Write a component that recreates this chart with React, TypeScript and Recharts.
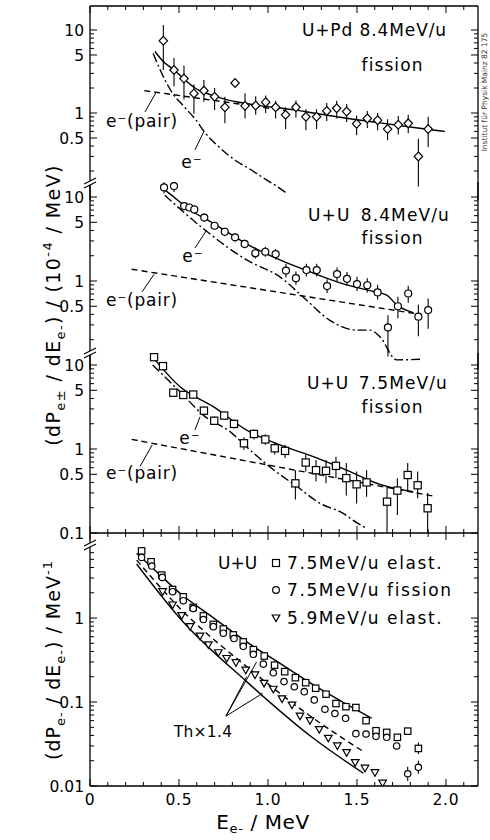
import React from 'react';
import {
  ComposedChart, Line, Scatter, XAxis, YAxis, ErrorBar,
  ReferenceLine, ReferenceDot, Legend,
} from 'recharts';

const FONT = '"DejaVu Sans", "Liberation Sans", sans-serif';
const W = 490;
const H = 840;

// ---- values: [E (MeV), value, error low, error high] ----
const pdFission = [
  [0.412, 7.4, 3.3, 11.5], [0.472, 3.3, 2.1, 4.6], [0.528, 2.6, 1.45, 3.7], [0.584, 1.72, 0.98, 2.2],
  [0.64, 1.86, 1.37, 2.5], [0.7, 1.57, 1.09, 2.0], [0.758, 1.17, 0.75, 1.57], [0.815, 2.3],
  [0.871, 1.22, 0.86, 1.73], [0.931, 1.23, 0.95, 1.59], [0.987, 1.35, 1.0, 1.63], [1.043, 1.17, 0.86, 1.4],
  [1.099, 0.95, 0.64, 1.17], [1.157, 1.17, 0.88, 1.41], [1.213, 0.9, 0.62, 1.11], [1.273, 0.9, 0.64, 1.11],
  [1.33, 1.06, 0.8, 1.32], [1.386, 1.14, 0.86, 1.4], [1.442, 1.04, 0.78, 1.28], [1.498, 0.74, 0.54, 0.93],
  [1.558, 0.86, 0.66, 1.06], [1.616, 0.82, 0.62, 1.0], [1.672, 0.64, 0.47, 0.84], [1.732, 0.72, 0.55, 0.92],
  [1.788, 0.75, 0.57, 0.95], [1.845, 0.3, 0.13, 0.49], [1.9, 0.64, 0.39, 0.9],
];
const pdTotal = [
  [0.365, 5.5], [0.41, 4.2], [0.472, 3.3], [0.53, 2.55], [0.59, 2.0], [0.68, 1.65], [0.777, 1.43],
  [0.88, 1.3], [0.965, 1.22], [1.148, 1.09], [1.255, 1.0], [1.45, 0.86], [1.63, 0.76], [1.82, 0.67], [1.994, 0.6],
];
const pdElectron = [
  [0.355, 5.2], [0.43, 2.3], [0.47, 1.65], [0.52, 1.25], [0.59, 0.85], [0.655, 0.55], [0.73, 0.38],
  [0.815, 0.27], [0.9, 0.21], [0.965, 0.17], [1.04, 0.135], [1.105, 0.108],
];
const pdPair = [[0.305, 1.86], [1.1, 1.07]];

const uu84Fission = [
  [0.416, 13.0, 11.0, 15.0], [0.472, 13.5, 11.5, 15.0], [0.529, 7.8, 7.0, 8.7], [0.558, 7.5, 6.8, 8.3],
  [0.586, 7.1, 6.3, 8.0], [0.642, 5.7, 5.1, 6.4], [0.7, 4.55, 4.1, 5.0], [0.757, 3.86, 3.4, 4.3],
  [0.815, 3.31, 2.95, 3.7], [0.869, 2.76, 2.45, 3.1], [0.929, 2.14, 1.85, 2.5], [0.985, 2.23, 1.95, 2.55],
  [1.043, 2.09, 1.8, 2.4], [1.101, 1.33, 1.1, 1.6], [1.157, 1.08, 0.9, 1.3], [1.216, 1.35, 1.13, 1.6],
  [1.274, 1.35, 1.13, 1.6], [1.332, 0.87, 0.72, 1.05], [1.388, 1.21, 1.0, 1.45], [1.444, 1.06, 0.88, 1.28],
  [1.5, 0.92, 0.76, 1.12], [1.558, 0.89, 0.73, 1.08], [1.616, 0.73, 0.6, 0.9], [1.674, 0.28, 0.126, 0.39],
  [1.73, 0.5, 0.36, 0.65], [1.788, 0.71, 0.55, 0.88], [1.845, 0.376, 0.22, 0.52], [1.9, 0.45, 0.27, 0.62],
];
const uu84Total = [
  [0.41, 12.5], [0.449, 10.9], [0.55, 7.3], [0.693, 4.86], [0.892, 2.68], [1.067, 1.78], [1.255, 1.24],
  [1.442, 0.9], [1.592, 0.75], [1.667, 0.68], [1.723, 0.52], [1.816, 0.42],
];
const uu84Electron = [
  [0.42, 10.5], [0.646, 4.05], [0.88, 1.78], [1.067, 1.12], [1.217, 0.59], [1.348, 0.34], [1.498, 0.26],
  [1.573, 0.26], [1.629, 0.217], [1.723, 0.115], [1.854, 0.117],
];
const uu84Pair = [[0.234, 1.38], [1.826, 0.41]];

const uu75Fission = [
  [0.36, 12.4, 11.3, 13.6], [0.41, 9.7, 8.9, 10.6], [0.468, 4.68, 4.2, 5.2], [0.524, 4.4, 4.0, 4.9],
  [0.58, 4.45, 4.0, 4.95], [0.64, 2.86, 2.55, 3.2], [0.698, 2.17, 1.95, 2.45], [0.754, 2.5, 2.25, 2.8],
  [0.809, 1.99, 1.75, 2.25], [0.865, 1.17, 0.98, 1.38], [0.921, 1.51, 1.3, 1.72], [0.985, 1.3, 1.12, 1.5],
  [1.038, 1.02, 0.86, 1.2], [1.096, 0.95, 0.78, 1.12], [1.154, 0.39, 0.25, 0.56], [1.212, 0.69, 0.54, 0.85],
  [1.27, 0.56, 0.41, 0.74], [1.326, 0.55, 0.39, 0.74], [1.382, 0.63, 0.45, 0.81], [1.44, 0.45, 0.28, 0.68],
  [1.498, 0.38, 0.225, 0.54], [1.554, 0.4, 0.27, 0.56], [1.669, 0.236, 0.1, 0.356], [1.727, 0.32, 0.164, 0.45],
  [1.785, 0.49, 0.325, 0.68], [1.841, 0.37, 0.26, 0.54], [1.897, 0.197, 0.1, 0.3],
];
const uu75Total = [
  [0.365, 11.5], [0.506, 5.5], [0.693, 3.19], [0.88, 1.68], [1.067, 1.12], [1.255, 0.81], [1.442, 0.56],
  [1.629, 0.38], [1.816, 0.31],
];
const uu75Electron = [
  [0.352, 10], [0.506, 4.8], [0.646, 2.43], [0.787, 1.61], [0.88, 1.06], [1.02, 0.59], [1.161, 0.36],
  [1.292, 0.226], [1.423, 0.171], [1.498, 0.133], [1.554, 0.114],
];
const uu75Pair = [[0.234, 1.3], [1.929, 0.275]];

const elast75 = [
  [0.29, 6.3], [0.343, 4.68], [0.403, 3.25], [0.464, 2.19], [0.524, 1.79], [0.58, 1.34], [0.637, 1.06],
  [0.693, 0.84], [0.749, 0.74], [0.805, 0.63], [0.861, 0.52], [0.918, 0.42], [0.979, 0.353], [1.037, 0.275],
  [1.094, 0.23], [1.154, 0.195], [1.212, 0.17], [1.268, 0.146], [1.326, 0.124], [1.382, 0.096],
  [1.438, 0.088], [1.494, 0.086], [1.551, 0.06], [1.607, 0.0455], [1.667, 0.0435], [1.727, 0.038],
  [1.785, 0.045], [1.845, 0.028, 0.024, 0.033],
];
const fission75 = [
  [0.29, 5.27], [0.347, 4.16], [0.406, 3.05], [0.464, 2.06], [0.524, 1.61], [0.58, 1.3], [0.637, 0.96],
  [0.693, 0.79], [0.749, 0.66], [0.809, 0.57], [0.861, 0.46], [0.918, 0.37], [0.974, 0.283], [1.03, 0.223],
  [1.09, 0.175], [1.148, 0.152], [1.204, 0.133], [1.26, 0.106], [1.32, 0.082], [1.376, 0.073],
  [1.436, 0.064], [1.494, 0.042], [1.551, 0.0416], [1.607, 0.039], [1.667, 0.038], [1.723, 0.03],
  [1.785, 0.014, 0.0115, 0.017], [1.845, 0.0167, 0.014, 0.02],
];
const elast59 = [
  [0.408, 2.06], [0.464, 1.43], [0.515, 1.07], [0.562, 0.79], [0.618, 0.61], [0.665, 0.48], [0.721, 0.386],
  [0.768, 0.33], [0.82, 0.294], [0.875, 0.24], [0.927, 0.21], [0.978, 0.167], [1.03, 0.142], [1.079, 0.109],
  [1.135, 0.092], [1.18, 0.068], [1.236, 0.06], [1.288, 0.047], [1.339, 0.037], [1.39, 0.03],
  [1.442, 0.025], [1.49, 0.019], [1.545, 0.0163], [1.601, 0.0144], [1.644, 0.0108],
];
const thElast75 = [[0.262, 5.9], [0.38, 3.47], [0.506, 1.97], [0.69, 1.02], [0.88, 0.52], [1.07, 0.286], [1.255, 0.16], [1.42, 0.1], [1.582, 0.064]];
const thFission75 = [[0.262, 4.9], [0.506, 1.3], [0.88, 0.264], [1.255, 0.064], [1.545, 0.025]];
const thElast59 = [[0.262, 4.4], [0.506, 0.99], [0.88, 0.175], [1.255, 0.037], [1.536, 0.0142]];

// ---- axis ticks ----
const xTicks = [0, 0.1, 0.2, 0.3, 0.4, 0.5, 0.6, 0.7, 0.8, 0.9, 1, 1.1, 1.2, 1.3, 1.4, 1.5, 1.6, 1.7, 1.8, 1.9, 2, 2.1];
const xLabels: Record<string, string> = { '0': '0', '0.5': '0.5', '1': '1.0', '1.5': '1.5', '2': '2.0' };
const ticksA = [0.2, 0.3, 0.4, 0.5, 0.6, 0.7, 0.8, 0.9, 1, 2, 3, 4, 5, 6, 7, 8, 9, 10];
const ticksB = [0.1, ...ticksA];
const ticksC = [0.01, 0.02, 0.03, 0.04, 0.05, 0.06, 0.07, 0.08, 0.09, 0.1, 0.2, 0.3, 0.4, 0.5, 0.6, 0.7, 0.8, 0.9, 1, 2, 3, 4, 5, 6];
const labelsA: Record<string, string> = { '10': '10', '5': '5', '1': '1', '0.5': '0.5' };
const labelsB: Record<string, string> = { ...labelsA, '0.1': '0.1' };
const labelsC: Record<string, string> = { '1': '1', '0.1': '0.1', '0.01': '0.01' };

const pts = (arr: number[][]) => arr.map(([x, y, lo = y, hi = y]) => ({ x, y, err: [y - lo, hi - y] }));
const curve = (arr: number[][]) => arr.map(([x, y]) => ({ x, y }));

// ---- markers ----
const ink = { fill: '#fff', stroke: '#000', strokeWidth: 1.2 };
const diamond = (p: any) => <path d={`M${p.cx},${p.cy - 4.4}L${p.cx + 4.2},${p.cy}L${p.cx},${p.cy + 4.4}L${p.cx - 4.2},${p.cy}Z`} {...ink} />;
const circle = (r: number) => (p: any) => <circle cx={p.cx} cy={p.cy} r={r} {...ink} />;
const square = (h: number) => (p: any) => <rect x={p.cx - h} y={p.cy - h} width={2 * h} height={2 * h} {...ink} />;
const triDown = (p: any) => <path d={`M${p.cx - 3.8},${p.cy - 3}L${p.cx + 3.8},${p.cy - 3}L${p.cx},${p.cy + 3.6}Z`} {...ink} />;

const DASH = '6 4';
const DASHDOT = '9 3 2 3';

const BreakMark = ({ x, y }: { x: number; y: number }) => (
  <g>
    <polygon points={`${x - 6},${y + 1} ${x + 6},${y - 5} ${x + 6},${y - 1} ${x - 6},${y + 5}`} fill="#fff" />
    <line x1={x - 6} y1={y + 1} x2={x + 6} y2={y - 5} stroke="#000" strokeWidth={1.2} />
    <line x1={x - 6} y1={y + 5} x2={x + 6} y2={y - 1} stroke="#000" strokeWidth={1.2} />
  </g>
);

const yTickLeft = (labels: Record<string, string>, breaks: number[]) => (props: any) => {
  const { x, y, payload } = props;
  if (breaks.includes(payload.value)) return <BreakMark x={x} y={y} />;
  const lab = labels[String(payload.value)];
  return (
    <g>
      <line x1={x} x2={x + (lab ? 7 : 4)} y1={y} y2={y} stroke="#000" strokeWidth={1} />
      {lab && (
        <text x={x - 6} y={y} dy="0.36em" textAnchor="end" fontSize={15.5} fontFamily={FONT} fill="#000">{lab}</text>
      )}
    </g>
  );
};
const yTickRight = (labels: Record<string, string>) => (props: any) => {
  const { x, y, payload } = props;
  const lab = labels[String(payload.value)];
  return <line x1={x} x2={x - (lab ? 7 : 4)} y1={y} y2={y} stroke="#000" strokeWidth={1} />;
};
const xTick = (mode: string) => (props: any) => {
  const { x, y, payload } = props;
  const lab = xLabels[String(payload.value)];
  const len = lab ? 7 : 4;
  if (mode === 'top') return <line x1={x} x2={x} y1={y} y2={y + len} stroke="#000" strokeWidth={1} />;
  if (mode === 'mid') return <line x1={x} x2={x} y1={y - len} y2={y + len} stroke="#000" strokeWidth={1} />;
  return (
    <g>
      <line x1={x} x2={x} y1={y} y2={y - len} stroke="#000" strokeWidth={1} />
      {lab && (
        <text x={x} y={y + 19} textAnchor="middle" fontSize={15.5} fontFamily={FONT} fill="#000" letterSpacing={0.8}>{lab}</text>
      )}
    </g>
  );
};

const upperTitle = () => (
  <text transform="translate(60,305) rotate(-90)" textAnchor="middle" fontSize={19} fontFamily={FONT} fill="#000" letterSpacing={1.4}>
    (dP<tspan dy={5} fontSize={13}>e±</tspan><tspan dy={-5}> / dE</tspan><tspan dy={5} fontSize={13}>e-</tspan>
    <tspan dy={-5}>) / (10</tspan><tspan dy={-8} fontSize={13}>-4</tspan><tspan dy={8}> / MeV)</tspan>
  </text>
);
const lowerTitle = () => (
  <text transform="translate(60,660) rotate(-90)" textAnchor="middle" fontSize={19} fontFamily={FONT} fill="#000" letterSpacing={1}>
    (dP<tspan dy={5} fontSize={13}>e-</tspan><tspan dy={-5}> / dE</tspan><tspan dy={5} fontSize={13}>e-</tspan>
    <tspan dy={-5}>) / MeV</tspan><tspan dy={-8} fontSize={13}>-1</tspan>
  </text>
);
const xTitle = () => (
  <text x={263} y={829} textAnchor="middle" fontSize={20} fontFamily={FONT} fill="#000" letterSpacing={0.6}>
    E<tspan dy={4} fontSize={13}>e-</tspan><tspan dy={-4}> / MeV</tspan>
  </text>
);
const stamp = () => (
  <text transform="translate(487,92) rotate(-90)" textAnchor="middle" fontSize={7.5} fontFamily={FONT} fill="#333">
    Institut für Physik Mainz 82 175
  </text>
);

type Note = { x: number; y: number; text: string; anchor?: string; size?: number; spacing?: number };
type Seg = [number, number, number, number];

const PLOT_LEFT = 90;
const PLOT_RIGHT = 478;

function Panel(props: any) {
  const {
    top, bottom, domain, ticks, labels, breaks = [], xMode, series = [], lines = [],
    notes = [], pointers = [], yTitle, rTitle, xLabel, children,
  } = props;
  const axisLine = { stroke: '#000', strokeWidth: 1.3 };
  const margin = {
    top: xMode === 'top' ? top - 1 : top,
    bottom: xMode === 'top' || xMode === 'none' ? H - bottom : H - bottom - 1,
    left: PLOT_LEFT - 1,
    right: W - PLOT_RIGHT - 1,
  };
  return (
    <div style={{ position: 'absolute', left: 0, top: 0 }}>
      <ComposedChart width={W} height={H} margin={margin}>
        <XAxis
          type="number" dataKey="x" domain={[0, 2.18]} allowDataOverflow ticks={xTicks} interval={0}
          orientation={xMode === 'top' ? 'top' : 'bottom'} hide={xMode === 'none'} height={1}
          tickSize={0} tickMargin={0} tickLine={false} axisLine={axisLine} tick={xTick(xMode)}
          label={xLabel ? { content: xLabel } : undefined}
        />
        <YAxis
          yAxisId="l" type="number" dataKey="y" scale="log" domain={domain} allowDataOverflow width={1}
          ticks={[...ticks, ...breaks]} interval={0} tickSize={0} tickMargin={0} tickLine={false}
          axisLine={axisLine} tick={yTickLeft(labels, breaks)}
          label={yTitle ? { content: yTitle } : undefined}
        />
        <YAxis
          yAxisId="r" orientation="right" type="number" dataKey="y" scale="log" domain={domain} allowDataOverflow
          width={1} ticks={ticks} interval={0} tickSize={0} tickMargin={0} tickLine={false}
          axisLine={axisLine} tick={yTickRight(labels)}
          label={rTitle ? { content: rTitle } : undefined}
        />
        {lines.map((l: any, i: number) => (
          <Line
            key={`l${i}`} yAxisId="l" data={curve(l.data)} dataKey="y" type={l.straight ? 'linear' : 'monotone'}
            stroke="#000" strokeWidth={1.4} strokeDasharray={l.dash} dot={false} isAnimationActive={false}
          />
        ))}
        {series.map((s: any, i: number) => (
          <Scatter key={`s${i}`} yAxisId="l" data={pts(s.data)} shape={s.shape} isAnimationActive={false}>
            <ErrorBar dataKey="err" direction="y" width={0} stroke="#000" strokeWidth={1.1} />
          </Scatter>
        ))}
        {pointers.map((p: Seg, i: number) => (
          <ReferenceLine
            key={`p${i}`} yAxisId="l" segment={[{ x: p[0], y: p[1] }, { x: p[2], y: p[3] }]}
            stroke="#000" strokeWidth={1}
          />
        ))}
        {notes.map((n: Note, i: number) => (
          <ReferenceDot
            key={`n${i}`} yAxisId="l" x={n.x} y={n.y} r={0} fill="none" stroke="none"
            label={(lp: any) => {
              const vb = lp.viewBox || { x: 0, y: 0 };
              return (
                <text x={vb.x} y={vb.y} dy="0.35em" textAnchor={n.anchor || 'middle'} fontSize={n.size || 17}
                  letterSpacing={n.spacing ?? 1.1} fontFamily={FONT} fill="#000">{n.text}</text>
              );
            }}
          />
        ))}
        {children}
      </ComposedChart>
    </div>
  );
}

const legendRows = [
  { label: '7.5MeV/u elast.', mark: <rect x={3.5} y={3.5} width={7} height={7} {...ink} /> },
  { label: '7.5MeV/u fission', mark: <circle cx={7} cy={7} r={3.4} {...ink} /> },
  { label: '5.9MeV/u elast.', mark: <path d="M3.2,4L10.8,4L7,10.6Z" {...ink} /> },
];

const LegendBox = () => (
  <div style={{ fontFamily: FONT, fontSize: 17, color: '#000' }}>
    {legendRows.map((r, i) => (
      <div key={r.label} style={{ display: 'flex', alignItems: 'center', height: 27.5, whiteSpace: 'nowrap' }}>
        <span style={{ width: 51 }}>{i === 0 ? 'U+U' : ''}</span>
        <svg width={14} height={14}>{r.mark}</svg>
        <span style={{ marginLeft: 4, letterSpacing: 1.6 }}>{r.label}</span>
      </div>
    ))}
  </div>
);

export default function App() {
  return (
    <div style={{ position: 'absolute', left: 0, top: 0, width: W, height: H, background: '#fff' }}>
      <Panel
        top={533} bottom={786} domain={[0.01, 10.3]} ticks={ticksC} labels={labelsC} breaks={[7.4]} xMode="bottom"
        yTitle={lowerTitle} xLabel={xTitle}
        lines={[
          { data: thElast75 },
          { data: thFission75, dash: DASH },
          { data: thElast59 },
        ]}
        series={[
          { data: elast75, shape: square(3.2) },
          { data: fission75, shape: circle(3.2) },
          { data: elast59, shape: triDown },
        ]}
        pointers={[
          [0.764, 0.068, 0.88, 0.2],
          [0.764, 0.068, 0.936, 0.3],
          [0.764, 0.068, 0.97, 0.127],
        ]}
        notes={[{ x: 0.635, y: 0.045, text: 'Th×1.4', size: 15.5, spacing: 0.3 }]}
      >
        <Legend
          layout="vertical" align="center" verticalAlign="middle"
          wrapperStyle={{ left: 218, top: 549, width: 266 }}
          content={() => <LegendBox />}
        />
      </Panel>
      <Panel
        top={353} bottom={533} domain={[0.1, 13.9]} ticks={ticksB} labels={labelsB} xMode="mid"
        lines={[
          { data: uu75Total },
          { data: uu75Electron, dash: DASHDOT },
          { data: uu75Pair, dash: DASH, straight: true },
        ]}
        series={[{ data: uu75Fission, shape: square(3.6) }]}
        pointers={[[0.281, 0.62, 0.35, 1.12], [0.59, 1.69, 0.618, 2.42]]}
        notes={[
          { x: 1.219, y: 6.1, text: 'U+U', anchor: 'start' },
          { x: 2.011, y: 6.1, text: '7.5MeV/u', anchor: 'end' },
          { x: 1.7, y: 3.16, text: 'fission' },
          { x: 0.292, y: 0.52, text: 'e⁻(pair)', spacing: 0.8 },
          { x: 0.562, y: 1.35, text: 'e⁻' },
        ]}
      />
      <Panel
        top={182} bottom={370} domain={[0.0871, 15.1]} ticks={ticksA} labels={labelsA} breaks={[0.139]} xMode="none"
        yTitle={upperTitle}
        lines={[
          { data: uu84Total },
          { data: uu84Electron, dash: DASHDOT },
          { data: uu84Pair, dash: DASH, straight: true },
        ]}
        series={[{ data: uu84Fission, shape: circle(3.5) }]}
        pointers={[[0.292, 0.74, 0.36, 1.2], [0.59, 2.47, 0.656, 4.05]]}
        notes={[
          { x: 1.225, y: 6.1, text: 'U+U', anchor: 'start' },
          { x: 2.022, y: 6.1, text: '8.4MeV/u', anchor: 'end' },
          { x: 1.7, y: 3.25, text: 'fission' },
          { x: 0.292, y: 0.594, text: 'e⁻(pair)', spacing: 0.8 },
          { x: 0.579, y: 1.98, text: 'e⁻' },
        ]}
      />
      <Panel
        top={6} bottom={200} domain={[0.0895, 19.46]} ticks={ticksA} labels={labelsA} breaks={[0.1436]} xMode="top"
        rTitle={stamp}
        lines={[
          { data: pdTotal },
          { data: pdElectron, dash: DASHDOT },
          { data: pdPair, dash: DASH, straight: true },
        ]}
        series={[{ data: pdFission, shape: diamond }]}
        pointers={[[0.309, 1.03, 0.37, 1.75], [0.59, 0.36, 0.64, 0.6]]}
        notes={[
          { x: 2.006, y: 10, text: 'U+Pd 8.4MeV/u', anchor: 'end', spacing: 0.9 },
          { x: 1.7, y: 3.79, text: 'fission' },
          { x: 0.292, y: 0.8, text: 'e⁻(pair)', spacing: 0.8 },
          { x: 0.573, y: 0.257, text: 'e⁻' },
        ]}
      />
    </div>
  );
}
